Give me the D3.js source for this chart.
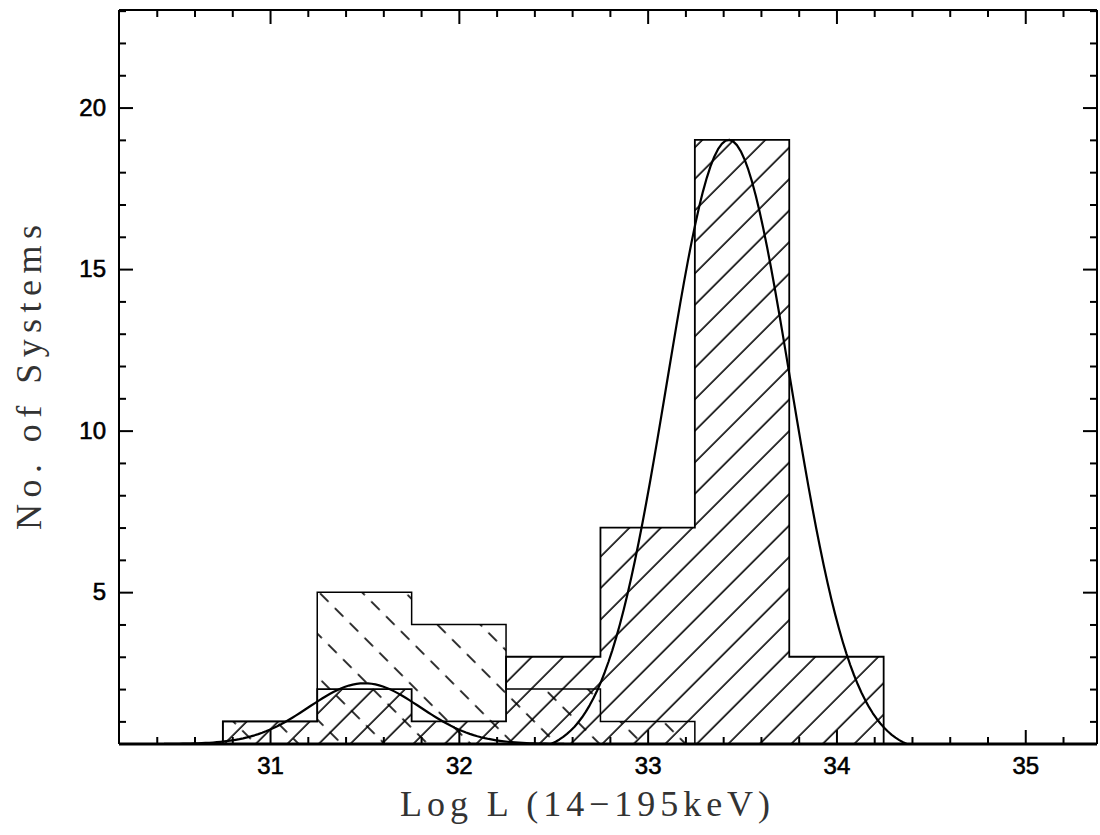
<!DOCTYPE html>
<html>
<head>
<meta charset="utf-8">
<script src="https://cdn.jsdelivr.net/npm/d3@7/dist/d3.min.js"></script>
<style>
  html, body { margin: 0; padding: 0; background: #fff; }
  svg { display: block; }
</style>
</head>
<body>
<script>
// ---------------- data ----------------
const binEdges     = [30.75, 31.25, 31.75, 32.25, 32.75, 33.25, 33.75, 34.25];
const solidCounts  = [1, 2, 1, 3, 7, 19, 3];      // "/" hatched histogram
const dashedCounts = [1, 5, 4, 2, 1, 0, 0];       // dashed "\" hatched histogram
// Gaussian fits drawn over the histograms (offset, amplitude, mean, sigma)
const gaussOffset = [0.3, 0.0];
const gaussAmp    = [1.88, 19.0];
const gaussMean   = [31.50, 33.43];
const gaussSigma  = [0.295, 0.327];
const xTickLabels = [31, 32, 33, 34, 35];
const yTickLabels = [5, 10, 15, 20];
const xTitle = "Log L (14\u2212195keV)";
const yTitle = "No. of Systems";

// ---------------- layout ----------------
const W = 1100, H = 835;
const pLeft = 119, pRight = 1097, pTop = 10, pBottom = 744;
const xDomain = [30.2, 35.38];
const yDomain = [0.3, 23.02];

const x = d3.scaleLinear().domain(xDomain).range([pLeft, pRight]);
const y = d3.scaleLinear().domain(yDomain).range([pBottom, pTop]);

const svg = d3.select("body").append("svg").attr("width", W).attr("height", H);
const defs = svg.append("defs");

defs.append("clipPath").attr("id", "plotClip")
  .append("rect").attr("x", pLeft).attr("y", pTop)
  .attr("width", pRight - pLeft).attr("height", pBottom - pTop);

// solid "/" hatching
const pS = defs.append("pattern").attr("id", "hatchSolid")
  .attr("patternUnits", "userSpaceOnUse")
  .attr("width", 22.27).attr("height", 20)
  .attr("patternTransform", "rotate(45)");
pS.append("line").attr("x1", 16.6).attr("x2", 16.6).attr("y1", -1).attr("y2", 21)
  .attr("stroke", "#000").attr("stroke-width", 1.6);

// dashed "\" hatching
const pD = defs.append("pattern").attr("id", "hatchDash")
  .attr("patternUnits", "userSpaceOnUse")
  .attr("width", 30.4).attr("height", 21)
  .attr("patternTransform", "rotate(-45)");
pD.append("line").attr("x1", 19.6).attr("x2", 19.6).attr("y1", 15.8).attr("y2", 21)
  .attr("stroke", "#000").attr("stroke-width", 1.6);
pD.append("line").attr("x1", 19.6).attr("x2", 19.6).attr("y1", 0).attr("y2", 6.8)
  .attr("stroke", "#000").attr("stroke-width", 1.6);

function stepPoints(counts) {
  const floor = yDomain[0];
  const pts = [[binEdges[0], floor]];
  counts.forEach((c, i) => {
    const v = Math.max(c, floor);
    pts.push([binEdges[i], v]);
    pts.push([binEdges[i + 1], v]);
  });
  pts.push([binEdges[counts.length], floor]);
  return pts;
}
const line = d3.line().x(d => x(d[0])).y(d => y(d[1]));

const plot = svg.append("g").attr("clip-path", "url(#plotClip)");

// hatched fills
plot.append("path").attr("d", line(stepPoints(dashedCounts)) + "Z")
  .attr("fill", "url(#hatchDash)").attr("stroke", "none");
plot.append("path").attr("d", line(stepPoints(solidCounts)) + "Z")
  .attr("fill", "url(#hatchSolid)").attr("stroke", "none");

// outlines
plot.append("path").attr("d", line(stepPoints(dashedCounts)))
  .attr("fill", "none").attr("stroke", "#000").attr("stroke-width", 1.5);
plot.append("path").attr("d", line(stepPoints(solidCounts)))
  .attr("fill", "none").attr("stroke", "#000").attr("stroke-width", 1.8);

// gaussian fits
gaussAmp.forEach((A, i) => {
  const mu = gaussMean[i], s = gaussSigma[i], off = gaussOffset[i];
  const xs = d3.range(mu - 3.6 * s, mu + 3.6 * s + 1e-9, 0.02);
  const pts = xs.map(v => [v, off + A * Math.exp(-((v - mu) ** 2) / (2 * s * s))]);
  plot.append("path").attr("d", line(pts))
    .attr("fill", "none").attr("stroke", "#000").attr("stroke-width", 2.2)
    .attr("stroke-linejoin", "round");
});

// ---------------- axes ----------------
const xMinor = d3.range(30.4, 35.3, 0.2).filter(v => Math.abs(v - Math.round(v)) > 1e-6);
const yMinor = d3.range(1, 23.5, 1).filter(v => v % 5 !== 0);

function styleAxis(g) {
  g.select(".domain").remove();
  g.selectAll(".tick line").attr("stroke", "#000").attr("stroke-width", 2);
}
function styleLabels(sel) {
  sel.attr("font-family", "'Liberation Sans', Arial, sans-serif")
    .attr("font-size", 24).attr("fill", "#000")
    .attr("stroke", "#000").attr("stroke-width", 0.6);
}

// bottom
svg.append("g").attr("transform", `translate(0,${pBottom})`)
  .call(d3.axisBottom(x).tickValues(xMinor).tickSize(-7).tickFormat(""))
  .call(styleAxis);
const xb = svg.append("g").attr("transform", `translate(0,${pBottom})`)
  .call(d3.axisBottom(x).tickValues(xTickLabels).tickSize(-14).tickPadding(13).tickFormat(d3.format("d")))
  .call(styleAxis);
xb.selectAll(".tick text").call(styleLabels).attr("dy", "0.71em");

// top
svg.append("g").attr("transform", `translate(0,${pTop})`)
  .call(d3.axisTop(x).tickValues(xMinor).tickSize(-7).tickFormat(""))
  .call(styleAxis);
svg.append("g").attr("transform", `translate(0,${pTop})`)
  .call(d3.axisTop(x).tickValues(xTickLabels).tickSize(-14).tickFormat(""))
  .call(styleAxis);

// left
svg.append("g").attr("transform", `translate(${pLeft},0)`)
  .call(d3.axisLeft(y).tickValues(yMinor).tickSize(-7).tickFormat(""))
  .call(styleAxis);
const yl = svg.append("g").attr("transform", `translate(${pLeft},0)`)
  .call(d3.axisLeft(y).tickValues(yTickLabels).tickSize(-14).tickPadding(13).tickFormat(d3.format("d")))
  .call(styleAxis);
yl.selectAll(".tick text").call(styleLabels);

// right
svg.append("g").attr("transform", `translate(${pRight},0)`)
  .call(d3.axisRight(y).tickValues(yMinor).tickSize(-7).tickFormat(""))
  .call(styleAxis);
svg.append("g").attr("transform", `translate(${pRight},0)`)
  .call(d3.axisRight(y).tickValues(yTickLabels).tickSize(-14).tickFormat(""))
  .call(styleAxis);

// frame
svg.append("line").attr("x1", pLeft).attr("x2", pRight).attr("y1", pTop).attr("y2", pTop)
  .attr("stroke", "#000").attr("stroke-width", 2);
svg.append("line").attr("x1", pLeft).attr("x2", pLeft).attr("y1", pTop).attr("y2", pBottom)
  .attr("stroke", "#000").attr("stroke-width", 2);
svg.append("line").attr("x1", pRight).attr("x2", pRight).attr("y1", pTop).attr("y2", pBottom)
  .attr("stroke", "#000").attr("stroke-width", 2);
svg.append("line").attr("x1", pLeft).attr("x2", pRight).attr("y1", pBottom).attr("y2", pBottom)
  .attr("stroke", "#000").attr("stroke-width", 3);

// titles
svg.append("text").text(xTitle)
  .attr("x", 400).attr("y", 816)
  .attr("textLength", 370).attr("lengthAdjust", "spacing")
  .attr("font-family", "'Liberation Serif', 'DejaVu Serif', serif")
  .attr("font-size", 36).attr("fill", "#333");
svg.append("text").text(yTitle)
  .attr("transform", "translate(41,530) rotate(-90)")
  .attr("textLength", 305).attr("lengthAdjust", "spacing")
  .attr("font-family", "'Liberation Serif', 'DejaVu Serif', serif")
  .attr("font-size", 36).attr("fill", "#333");
</script>
</body>
</html>
